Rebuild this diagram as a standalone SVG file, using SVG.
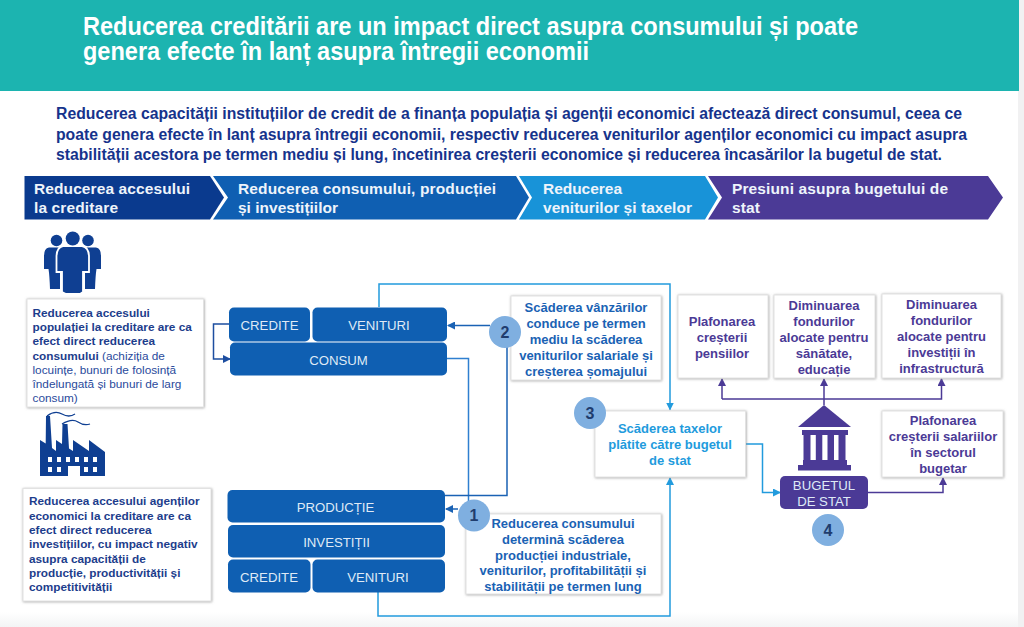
<svg xmlns="http://www.w3.org/2000/svg" width="1024" height="627" viewBox="0 0 1024 627">
<style>
text{font-family:"Liberation Sans",Arial,sans-serif}
.title{font-size:25.5px;font-weight:700;fill:#fff}
.lead{font-size:16px;font-weight:700;fill:#16338c}
.chev{font-size:15.5px;font-weight:700;fill:#eef4fb}
.bx{fill:#fff;stroke:#e2e2e2;stroke-width:1;filter:url(#sh)}
.blk{fill:#0f5fb2}
.blkt{font-size:13.2px;fill:#dfeaf6;text-anchor:middle}
.lt{font-size:11.8px;font-weight:700;fill:#1d3d8c}
.ltn{font-weight:400;fill:#2a4a9c}
.ct{font-size:13px;font-weight:700;text-anchor:middle}
.b{fill:#1a62b4}.c{fill:#229bdd}.p{fill:#4b3a96}
.num{fill:#7fafe0}
.numt{font-size:16px;font-weight:700;fill:#1f3d6e;text-anchor:middle}
.ln{fill:none;stroke-width:1.500}
</style>
<defs>
<filter id="sh" x="-5%" y="-5%" width="110%" height="110%"><feDropShadow dx="0.500" dy="0.500" stdDeviation="1.100" flood-color="#8a8a8a" flood-opacity="0.800"/></filter>
<marker id="aB" markerWidth="8" markerHeight="8" refX="7" refY="4" orient="auto" markerUnits="userSpaceOnUse"><path d="M0 0L8 4L0 8z" fill="#1a62b4"/></marker>
<marker id="aD" markerWidth="8" markerHeight="8" refX="7" refY="4" orient="auto" markerUnits="userSpaceOnUse"><path d="M0 0L8 4L0 8z" fill="#1d4ea0"/></marker>
<marker id="aC" markerWidth="8" markerHeight="8" refX="7" refY="4" orient="auto" markerUnits="userSpaceOnUse"><path d="M0 0L8 4L0 8z" fill="#229bdd"/></marker>
<marker id="aP" markerWidth="8" markerHeight="8" refX="7" refY="4" orient="auto" markerUnits="userSpaceOnUse"><path d="M0 0L8 4L0 8z" fill="#4b3a96"/></marker>
<linearGradient id="foot" x1="0" y1="0" x2="0" y2="1"><stop offset="0" stop-color="#fff"/><stop offset="1" stop-color="#f3f4f5"/></linearGradient>
</defs>
<rect width="1024" height="627" fill="#fff"/>
<rect x="0" y="612" width="1018" height="15" fill="url(#foot)"/>
<rect x="1018" y="0" width="6" height="627" fill="#f1f1f2"/>
<rect x="0" y="0" width="1019" height="91" fill="#1cb4b0"/>
<text class="title" x="83" y="35" textLength="775" lengthAdjust="spacingAndGlyphs">Reducerea creditării are un impact direct asupra consumului și poate</text>
<text class="title" x="83" y="60" textLength="506" lengthAdjust="spacingAndGlyphs">genera efecte în lanț asupra întregii economii</text>
<text class="lead" x="56" y="119" textLength="906" lengthAdjust="spacingAndGlyphs">Reducerea capacității instituțiilor de credit de a finanța populația și agenții economici afectează direct consumul, ceea ce</text>
<text class="lead" x="56" y="139.500" textLength="911" lengthAdjust="spacingAndGlyphs">poate genera efecte în lanț asupra întregii economii, respectiv reducerea veniturilor agenților economici cu impact asupra</text>
<text class="lead" x="56" y="159.500" textLength="886" lengthAdjust="spacingAndGlyphs">stabilității acestora pe termen mediu și lung, încetinirea creșterii economice și reducerea încasărilor la bugetul de stat.</text>

<g id="chevron-1"><path d="M24.500 176H210L224 197.500L210 219.500H24.500z" fill="#0a3a8e"/>
<text class="chev" x="34" y="194" textLength="156" lengthAdjust="spacing">Reducerea accesului</text><text class="chev" x="34" y="213" textLength="84" lengthAdjust="spacing">la creditare</text></g>
<g id="chevron-2"><path d="M213 176H516L529 197.500L516 219.500H213L228 197.500z" fill="#0f5fb2"/>
<text class="chev" x="238" y="194" textLength="258" lengthAdjust="spacing">Reducerea consumului, producției</text><text class="chev" x="238" y="213" textLength="100" lengthAdjust="spacing">și investițiilor</text></g>
<g id="chevron-3"><path d="M519 176H705L718 197.500L705 219.500H519L532 197.500z" fill="#1893d8"/>
<text class="chev" x="543" y="194" textLength="79" lengthAdjust="spacing">Reducerea</text><text class="chev" x="543" y="213" textLength="149" lengthAdjust="spacing">veniturilor și taxelor</text></g>
<g id="chevron-4"><path d="M708 176H988L1003 197.500L988 219.500H708L722 197.500z" fill="#4b3a96"/>
<text class="chev" x="732" y="194" textLength="216" lengthAdjust="spacing">Presiuni asupra bugetului de</text><text class="chev" x="732" y="213" textLength="28" lengthAdjust="spacing">stat</text></g>

<g id="connectors">
<path class="ln" stroke="#229bdd" d="M379 307V284H670V409.500" marker-end="url(#aC)"/>
<path class="ln" stroke="#229bdd" d="M378 592V616H670V478" marker-end="url(#aC)"/>
<path class="ln" stroke="#229bdd" d="M745 444H762.500V492.500H780" marker-end="url(#aC)"/>
<path class="ln" stroke="#1d4ea0" d="M229 324H213.500V359H230" marker-end="url(#aD)"/>
<path class="ln" stroke="#1a62b4" d="M490 325.500H448" marker-end="url(#aB)"/>
<path class="ln" stroke="#1a62b4" d="M458 509H446" marker-end="url(#aB)"/>
<path class="ln" stroke="#2f7fd0" d="M447 358.500H468.500V505"/>
<path class="ln" stroke="#1a62b4" d="M445 495.500H507V345"/>
<path class="ln" stroke="#4b3a96" d="M824 405V399"/>
<path class="ln" stroke="#4b3a96" d="M722 399V379" marker-end="url(#aP)"/>
<path class="ln" stroke="#4b3a96" d="M722 399H941.500V379" marker-end="url(#aP)"/>
<path class="ln" stroke="#4b3a96" d="M824 399V379" marker-end="url(#aP)"/>
<path class="ln" stroke="#4b3a96" d="M868 492.500H943V478" marker-end="url(#aP)"/>
</g>

<g id="icon-people" fill="#0f3f92">
<circle cx="56.500" cy="240.500" r="5.800"/><circle cx="88" cy="240.500" r="5.800"/>
<path d="M49 247.500H60V289H50Q49.500 275 48.500 269H44V256Q44 248 49 247.500z"/>
<path d="M96 247.500H85V289H95Q95.500 275 96.500 269H101V256Q101 248 96 247.500z"/>
<path d="M63 246H82Q88.500 247 89 256V272H83V292L80 294H66L62 292V272H56.500V256Q57 247 63 246z" stroke="#fff" stroke-width="1.800"/>
<circle cx="72.700" cy="238.500" r="7"/>
</g>
<g id="node-populatie"><rect class="bx" x="27" y="299" width="176.500" height="108"/>
<text class="lt" x="32.500" y="317">Reducerea accesului</text>
<text class="lt" x="32.500" y="331">populației la creditare are ca</text>
<text class="lt" x="32.500" y="345">efect direct reducerea</text>
<text class="lt" x="32.500" y="360">consumului <tspan class="ltn">(achiziția de</tspan></text>
<text class="lt ltn" x="32.500" y="374">locuințe, bunuri de folosință</text>
<text class="lt ltn" x="32.500" y="388">îndelungată și bunuri de larg</text>
<text class="lt ltn" x="32.500" y="402">consum)</text></g>

<g id="icon-factory" fill="#0f3f92">
<path fill-rule="evenodd" d="M40 440L45.700 443.500L46 416H50L52 448L56 451V440L62 444L62.500 424H67.500L69 448.500L73 451V440L89 451V440L105 452V476H80V466H68V476H40zM48 457v5h4v-5zM57 457v5h4v-5zM66 457v5h4v-5zM75 457v5h4v-5zM84 457v5h4v-5zM93 457v5h4v-5zM48 467v5h4v-5zM57 467v5h4v-5zM84 467v5h4v-5zM93 467v5h4v-5z"/>
<path d="M47 416Q55 410 62 414T75 414M62 424Q72 418 78 422T90 424" fill="none" stroke="#0f3f92" stroke-width="1.300"/>
</g>
<g id="node-agenti"><rect class="bx" x="23" y="488.500" width="188" height="112.500"/>
<text class="lt" x="29" y="505">Reducerea accesului agenților</text>
<text class="lt" x="29" y="519.500">economici la creditare are ca</text>
<text class="lt" x="29" y="534">efect direct reducerea</text>
<text class="lt" x="29" y="548">investițiilor, cu impact negativ</text>
<text class="lt" x="29" y="562.500">asupra capacității de</text>
<text class="lt" x="29" y="577">producție, productivității și</text>
<text class="lt" x="29" y="591">competitivității</text></g>

<g id="node-credite-1"><rect class="blk" x="229" y="307.500" width="81" height="34" rx="5"/><text class="blkt" x="269.500" y="330">CREDITE</text></g>
<g id="node-venituri-1"><rect class="blk" x="312.500" y="307.500" width="134.500" height="34" rx="5"/><text class="blkt" x="379" y="330">VENITURI</text></g>
<g id="node-consum"><rect class="blk" x="230" y="342.500" width="217" height="33" rx="5"/><text class="blkt" x="338.500" y="365">CONSUM</text></g>
<g id="node-productie"><rect class="blk" x="227.500" y="490" width="217.500" height="32.500" rx="5"/><text class="blkt" x="335.500" y="512">PRODUCȚIE</text></g>
<g id="node-investitii"><rect class="blk" x="228" y="525" width="217" height="32.500" rx="5"/><text class="blkt" x="336.500" y="547">INVESTIȚII</text></g>
<g id="node-credite-2"><rect class="blk" x="228" y="559.500" width="82.500" height="33" rx="5"/><text class="blkt" x="269" y="582">CREDITE</text></g>
<g id="node-venituri-2"><rect class="blk" x="312.500" y="559.500" width="132.500" height="33" rx="5"/><text class="blkt" x="378" y="582">VENITURI</text></g>

<g id="node-vanzari"><rect class="bx" x="511" y="296" width="150" height="84"/>
<g class="ct b"><text x="586" y="312">Scăderea vânzărilor</text><text x="586" y="328">conduce pe termen</text><text x="586" y="344">mediu la scăderea</text><text x="586" y="360">veniturilor salariale și</text><text x="586" y="376">creșterea șomajului</text></g></g>
<g id="badge-2"><circle class="num" cx="505" cy="332" r="16"/><text class="numt" x="505" y="338">2</text></g>

<g id="node-consum-reducere"><rect class="bx" x="466" y="514" width="195" height="80"/>
<g class="ct b"><text x="563" y="528">Reducerea consumului</text><text x="563" y="544">determină scăderea</text><text x="563" y="560">producției industriale,</text><text x="563" y="575">veniturilor, profitabilității și</text><text x="563" y="591">stabilității pe termen lung</text></g></g>
<g id="badge-1"><circle class="num" cx="474" cy="515.500" r="16"/><text class="numt" x="474" y="521">1</text></g>

<g id="node-taxe"><rect class="bx" x="595" y="411" width="150.500" height="66"/>
<g class="ct c"><text x="670" y="433">Scăderea taxelor</text><text x="670" y="449">plătite către bugetul</text><text x="670" y="465">de stat</text></g></g>
<g id="badge-3"><circle class="num" cx="590" cy="413" r="16"/><text class="numt" x="590" y="419">3</text></g>

<g id="node-pensii"><rect class="bx" x="678" y="295" width="90" height="83"/>
<g class="ct p"><text x="722" y="326">Plafonarea</text><text x="722" y="342">creșterii</text><text x="722" y="358">pensiilor</text></g></g>
<g id="node-sanatate"><rect class="bx" x="774" y="295" width="101" height="83"/>
<g class="ct p"><text x="824" y="310">Diminuarea</text><text x="824" y="326">fondurilor</text><text x="824" y="342">alocate pentru</text><text x="824" y="358">sănătate,</text><text x="824" y="374">educație</text></g></g>
<g id="node-infrastructura"><rect class="bx" x="882" y="294" width="119" height="84"/>
<g class="ct p"><text x="941.500" y="309">Diminuarea</text><text x="941.500" y="325">fondurilor</text><text x="941.500" y="341">alocate pentru</text><text x="941.500" y="357">investiții în</text><text x="941.500" y="373">infrastructură</text></g></g>
<g id="node-salarii"><rect class="bx" x="882" y="411" width="121" height="66"/>
<g class="ct p"><text x="943" y="425">Plafonarea</text><text x="943" y="441">creșterii salariilor</text><text x="943" y="457">în sectorul</text><text x="943" y="473">bugetar</text></g></g>

<g id="icon-bank" fill="#4b3a96">
<path d="M824 405L851 427H798z"/><rect x="802" y="430" width="46" height="5"/>
<rect x="803.500" y="435" width="7" height="25"/><rect x="815.800" y="435" width="6.500" height="25"/><rect x="827.500" y="435" width="6.500" height="25"/><rect x="838.500" y="435" width="7" height="25"/>
<rect x="803" y="460" width="44" height="5"/><rect x="798" y="465" width="53" height="5.500"/>
</g>
<g id="node-buget"><rect class="p" x="780" y="476" width="88" height="33" rx="5"/>
<text class="blkt" x="824" y="489.500">BUGETUL</text><text class="blkt" x="824" y="505.500">DE STAT</text></g>
<g id="badge-4"><circle class="num" cx="828" cy="530" r="16"/><text class="numt" x="828" y="536">4</text></g>
</svg>
